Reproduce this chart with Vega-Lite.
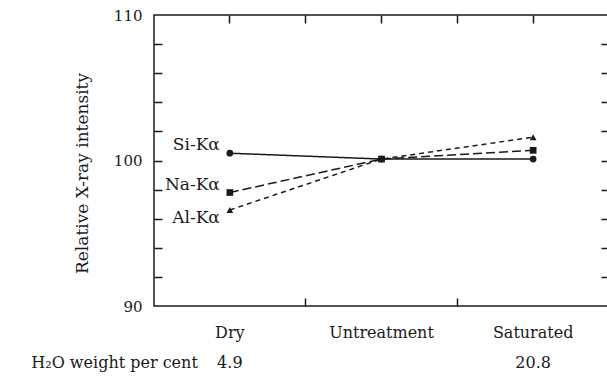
{
  "$schema": "https://vega.github.io/schema/vega-lite/v6.json",
  "width": 455,
  "height": 291,
  "autosize": "none",
  "padding": {"left": 154, "top": 15, "right": 0, "bottom": 72},
  "background": "white",
  "config": {
    "view": {"stroke": "#1a1a1a", "strokeWidth": 1.5},
    "font": "DejaVu Serif",
    "axis": {
      "grid": false,
      "domain": false,
      "tickColor": "#1a1a1a",
      "tickWidth": 1.5,
      "labelColor": "#1a1a1a",
      "labelFont": "DejaVu Serif",
      "titleFont": "DejaVu Serif",
      "titleColor": "#1a1a1a"
    }
  },
  "datasets": {
    "series": [
      {"series": "Si-Kα", "condition": "Dry", "intensity": 100.5},
      {"series": "Si-Kα", "condition": "Untreatment", "intensity": 100.1},
      {"series": "Si-Kα", "condition": "Saturated", "intensity": 100.1},
      {"series": "Na-Kα", "condition": "Dry", "intensity": 97.8},
      {"series": "Na-Kα", "condition": "Untreatment", "intensity": 100.1},
      {"series": "Na-Kα", "condition": "Saturated", "intensity": 100.7},
      {"series": "Al-Kα", "condition": "Dry", "intensity": 96.6},
      {"series": "Al-Kα", "condition": "Untreatment", "intensity": 100.1},
      {"series": "Al-Kα", "condition": "Saturated", "intensity": 101.6}
    ],
    "water": [
      {"condition": "Dry", "water": 4.9},
      {"condition": "Saturated", "water": 20.8}
    ]
  },
  "layer": [
    {
      "data": {"name": "series"},
      "mark": {"type": "line", "color": "#1a1a1a", "strokeWidth": 1.5},
      "encoding": {
        "x": {
          "field": "condition", "type": "nominal",
          "sort": ["Dry", "Untreatment", "Saturated"],
          "scale": {"type": "band", "paddingInner": 0, "paddingOuter": 0, "domain": ["Dry", "Untreatment", "Saturated"]},
          "axis": {"orient": "bottom", "ticks": false, "labelPadding": 18, "labelFontSize": 16, "labelAngle": 0, "title": null}
        },
        "y": {
          "field": "intensity", "type": "quantitative",
          "scale": {"domain": [90, 110], "nice": false, "zero": false},
          "axis": {"orient": "left", "values": [90, 100, 110], "ticks": false, "labelPadding": 12, "labelFontSize": 15,
                   "title": "Relative X-ray intensity", "titleFontSize": 17, "titleFontWeight": "normal", "titlePadding": 22, "titleY": 158}
        },
        "strokeDash": {
          "field": "series", "type": "nominal",
          "scale": {"domain": ["Si-Kα", "Na-Kα", "Al-Kα"], "range": [[1, 0], [9, 4], [5, 4]]},
          "legend": null
        }
      }
    },
    {
      "data": {"name": "series"},
      "mark": {"type": "point", "filled": true, "color": "#1a1a1a", "opacity": 1},
      "encoding": {
        "x": {
          "field": "condition", "type": "nominal",
          "axis": {"orient": "bottom", "values": ["Untreatment", "Saturated"], "bandPosition": 0, "tickSize": -8, "labels": false, "title": null}
        },
        "y": {
          "field": "intensity", "type": "quantitative",
          "axis": {"orient": "left", "values": [92, 94, 96, 98, 100, 102, 104, 106, 108], "tickSize": -8, "labels": false, "title": null}
        },
        "shape": {
          "field": "series", "type": "nominal",
          "scale": {"domain": ["Si-Kα", "Na-Kα", "Al-Kα"], "range": ["circle", "square", "triangle-up"]},
          "legend": null
        },
        "size": {
          "field": "series", "type": "nominal",
          "scale": {"domain": ["Si-Kα", "Na-Kα", "Al-Kα"], "range": [45, 45, 35]},
          "legend": null
        }
      }
    },
    {
      "data": {"name": "series"},
      "transform": [{"filter": "datum.condition === 'Dry' && datum.series !== 'Al-Kα'"}],
      "mark": {"type": "text", "align": "right", "baseline": "middle", "dx": -10, "dy": -8, "fontSize": 17, "color": "#1a1a1a"},
      "encoding": {
        "x": {
          "field": "condition", "type": "nominal",
          "axis": {"orient": "top", "bandPosition": 0.5, "tickSize": -8, "labels": false, "title": null}
        },
        "y": {
          "field": "intensity", "type": "quantitative",
          "axis": {"orient": "right", "values": [92, 94, 96, 98, 100, 102, 104, 106, 108], "tickSize": -8, "labels": false, "title": null}
        },
        "text": {"field": "series"}
      }
    },
    {
      "data": {"name": "series"},
      "transform": [{"filter": "datum.condition === 'Dry' && datum.series === 'Al-Kα'"}],
      "mark": {"type": "text", "align": "right", "baseline": "middle", "dx": -10, "dy": 8, "fontSize": 17, "color": "#1a1a1a"},
      "encoding": {
        "x": {
          "field": "condition", "type": "nominal",
          "axis": {"orient": "top", "values": ["Untreatment", "Saturated"], "bandPosition": 0, "tickSize": -8, "labels": false, "title": null}
        },
        "y": {"field": "intensity", "type": "quantitative", "axis": null},
        "text": {"field": "series"}
      }
    },
    {
      "data": {"name": "water"},
      "mark": {"type": "text", "align": "center", "baseline": "middle", "dy": 57, "fontSize": 16, "color": "#1a1a1a"},
      "encoding": {
        "x": {"field": "condition", "type": "nominal", "axis": null},
        "y": {"datum": 90, "type": "quantitative", "axis": null},
        "text": {"field": "water", "type": "quantitative", "format": ".1f"}
      }
    },
    {
      "data": {"values": [{"label": "H₂O weight per cent"}]},
      "mark": {"type": "text", "align": "right", "baseline": "middle", "dx": -32, "dy": 57, "fontSize": 16, "color": "#1a1a1a"},
      "encoding": {
        "x": {"datum": "Dry", "type": "nominal", "axis": null},
        "y": {"datum": 90, "type": "quantitative", "axis": null},
        "text": {"field": "label"}
      }
    }
  ],
  "resolve": {"axis": {"x": "independent", "y": "independent"}}
}
